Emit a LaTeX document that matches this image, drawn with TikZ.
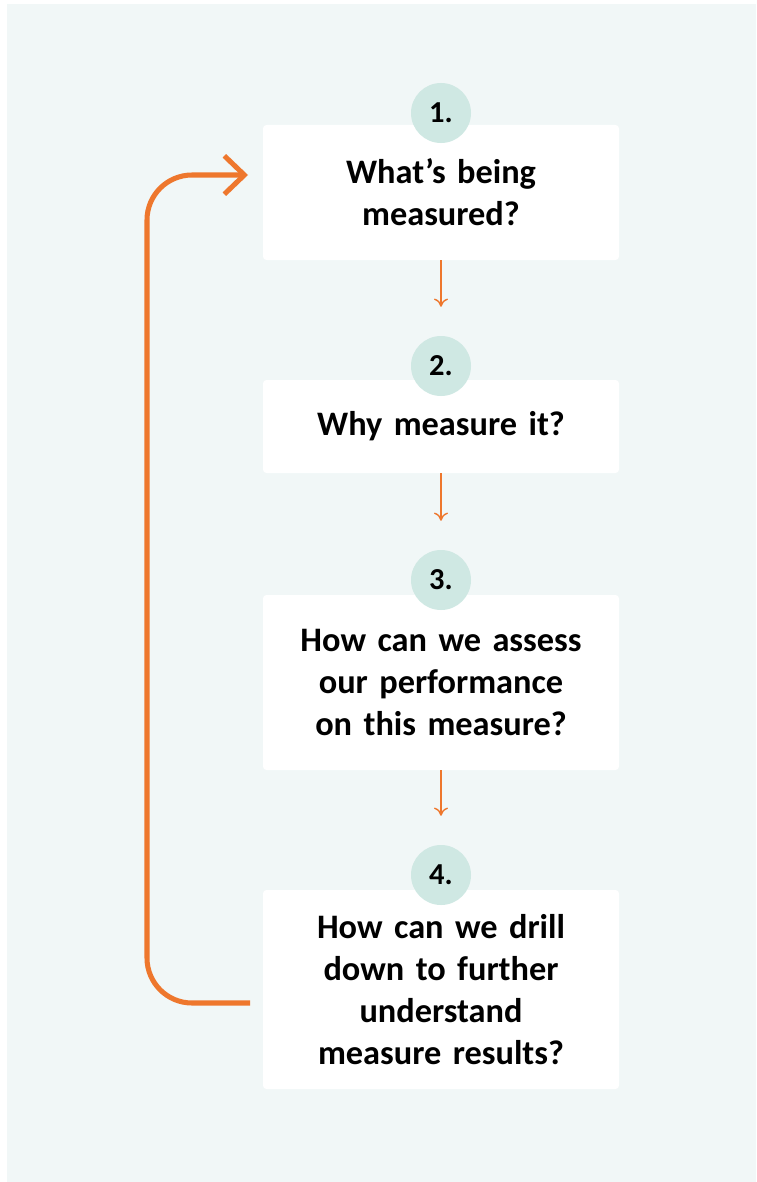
\documentclass[tikz,border=0pt]{standalone}
\usepackage{fontspec}
\setmainfont{Carlito}
\usetikzlibrary{arrows.meta}
\definecolor{panelgray}{RGB}{241, 247, 247}
\definecolor{stepteal}{RGB}{207, 232, 227}
\definecolor{looporange}{RGB}{238, 119, 45}

\begin{document}
\begin{tikzpicture}[x=0.03cm, y=-0.03cm]
            \pgfmathsetmacro{\midCol}{441}
            \pgfmathsetmacro{\boxWidth}{356*0.03}

            \useasboundingbox (0, 0) rectangle (756, 1182);
            \fill[panelgray] (7, 4) rectangle (756, 1182);

            \tikzset{
                question/.style={rectangle, fill=white, rounded corners=3pt, minimum width=\boxWidth cm, text width=9.6cm, align=center, font=\fontsize{29.3}{35.9}\selectfont\bfseries},
                badge/.style={circle, fill=stepteal, minimum size=1.8cm, inner sep=0pt, font=\fontsize{26}{28}\selectfont\bfseries},
                flow/.style={-{To[length=7pt, width=12pt]}, looporange, line width=1.2pt},
                back/.style={-{Straight Barb[length=0.6cm, width=1.15cm]}, looporange, line width=4.3pt, rounded corners=1.35cm}
            }

            \node[question, minimum height=135*0.03cm] (b1) at (\midCol, 192.5) {What’s being\\measured?};
            \node[question, minimum height=93*0.03cm] (b2) at (\midCol, 426.5) {Why measure it?};
            \node[question, minimum height=175*0.03cm] (b3) at (\midCol, 682.5) {How can we assess\\our performance\\on this measure?};
            \node[question, minimum height=199*0.03cm] (b4) at (\midCol, 989.5) {How can we drill\\down to further\\understand\\measure results?};

            % number badges sit on top of each box
            \node[badge] (c1) at (\midCol, 113) {1.};
            \node[badge] (c2) at (\midCol, 366) {2.};
            \node[badge] (c3) at (\midCol, 580) {3.};
            \node[badge] (c4) at (\midCol, 875) {4.};

            % short arrows between the steps
            \foreach \i/\j in {1/2, 2/3, 3/4}
            \draw[flow, shorten >=29*0.03cm] (b\i.south) -- (c\j.north);

            % loop back from last step to the first
            \coordinate (loopstart) at (250, 1003);
            \coordinate (loopend) at (248, 175);
            \draw[back] (loopstart) -- (147, 1003) -- (147, 175) -- (loopend);

        \end{tikzpicture}
\end{document}
